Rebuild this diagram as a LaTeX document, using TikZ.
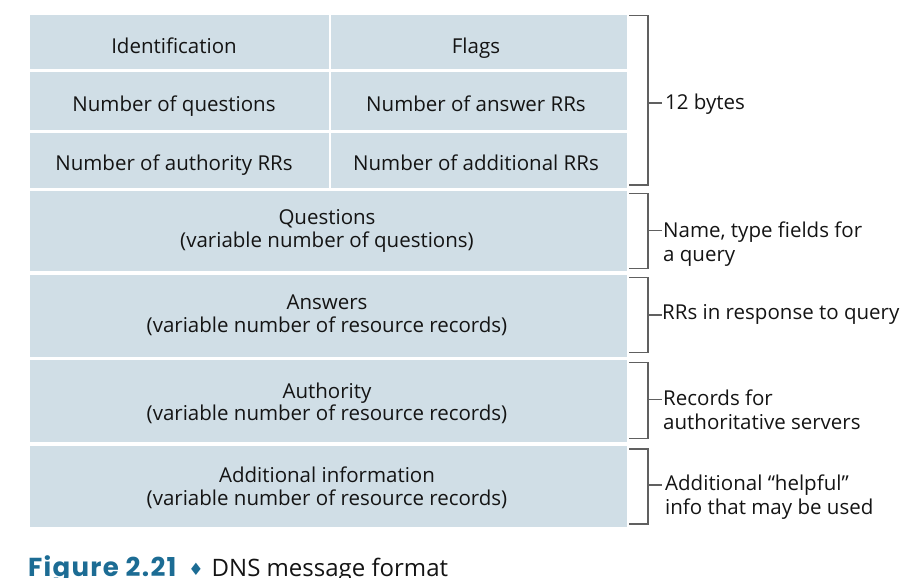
\documentclass[tikz,border=0pt]{standalone}
\usepackage{fontspec}
\setmainfont{Open Sans}
\newfontfamily\capfont[LetterSpace=5]{Poppins}
\newfontfamily\symfont{DejaVu Sans}
\definecolor{cellfill}{RGB}{208,222,230}
\definecolor{figblue}{RGB}{28,108,148}
\definecolor{txt}{RGB}{20,20,20}
\definecolor{brk}{RGB}{96,96,96}

\begin{document}
\begin{tikzpicture}[x=1pt,y=-1pt,
  cell/.style={fill=cellfill, draw=none, inner sep=0pt, anchor=north west},
  lbl/.style={font=\fontsize{20.5}{22.2}\selectfont, text=txt, align=center, anchor=base, inner sep=0pt},
  note/.style={font=\fontsize{20.5}{24.5}\selectfont, text=txt, align=left, anchor=base west, inner sep=0pt},
  brace/.style={draw=brk, line width=1.2pt},
]
\useasboundingbox (0,0) rectangle (914,578);

% header fields: two 16-bit fields per row
\node[cell, minimum width=298.5, minimum height=54.8] (id)    at (30,14.5)  {};
\node[cell, minimum width=296,   minimum height=54.8] (flags) at (331,14.5) {};
\node[cell, minimum width=298.5, minimum height=58.3] (nq)    at (30,71.7)  {};
\node[cell, minimum width=296,   minimum height=58.3] (nans)  at (331,71.7) {};
\node[cell, minimum width=298.5, minimum height=55.3] (nauth) at (30,132.7) {};
\node[cell, minimum width=296,   minimum height=55.3] (nadd)  at (331,132.7){};

% variable-length sections
\node[cell, minimum width=597, minimum height=80.5] (qs)   at (30,190.5) {};
\node[cell, minimum width=597, minimum height=82]   (ans)  at (30,274.5) {};
\node[cell, minimum width=597, minimum height=81.5] (auth) at (30,360)   {};
\node[cell, minimum width=597, minimum height=81]   (addl) at (30,445.5) {};

% field labels (base anchor = baseline of the last line)
\node[lbl] (tid)    at (174,53.3)  {Identification};
\node[lbl] (tflags) at (476,53.3)  {Flags};
\node[lbl] (tnq)    at (174,112)   {Number of questions};
\node[lbl] (tnans)  at (476,112)   {Number of answer RRs};
\node[lbl] (tnauth) at (174,171)   {Number of authority RRs};
\node[lbl] (tnadd)  at (476,171)   {Number of additional RRs};
\node[lbl] (tqs)    at (327,247)   {Questions\\(variable number of questions)};
\node[lbl] (tans)   at (327,332)   {Answers\\(variable number of resource records)};
\node[lbl] (tauth)  at (327,420.5) {Authority\\(variable number of resource records)};
\node[lbl] (taddl)  at (327,505)   {Additional information\\(variable number of resource records)};

% side notes
\node[note] (n1) at (665,110)   {12 bytes};
\node[note] (n2) at (663,261.5) {Name, type fields for\\a query};
\node[note] (n3) at (662,319.5) {RRs in response to query};
\node[note] (n4) at (663,429.5) {Records for\\authoritative servers};
\node[note] (n5) at (665,514.5) {Additional “helpful”\\info that may be used};

% brackets with their ticks
\coordinate (b1t) at (629.3,15.7);  \coordinate (b1b) at (629.3,185);   \coordinate (b1m) at (648,103);
\coordinate (b2t) at (629.3,193.3); \coordinate (b2b) at (629.3,268.3); \coordinate (b2m) at (648,230.7);
\coordinate (b3t) at (629.3,277.7); \coordinate (b3b) at (629.3,352.7); \coordinate (b3m) at (648,315);
\coordinate (b4t) at (629.3,362.7); \coordinate (b4b) at (629.3,438.3); \coordinate (b4m) at (648,399.3);
\coordinate (b5t) at (629.3,449);   \coordinate (b5b) at (629.3,524);   \coordinate (b5m) at (648,485);
\foreach \b in {b1,b2,b3,b4,b5}{
  \draw[brace] (\b t) -- (\b m |- \b t) -- (\b m |- \b b) -- (\b b);
  \draw[brace] (\b m) -- ++(13.5,0);
}

% caption
\node[anchor=base west, inner sep=0pt] (cap) at (28,576.5)
  {{\capfont\bfseries\fontsize{26}{28}\selectfont\color{figblue}Figure 2.21}\hspace{12pt}%
   {\symfont\fontsize{17}{18}\selectfont\color{figblue}\raisebox{1.5pt}{♦}}\hspace{8pt}%
   {\fontsize{24}{26}\selectfont\color{txt}DNS message format}};
\end{tikzpicture}
\end{document}
